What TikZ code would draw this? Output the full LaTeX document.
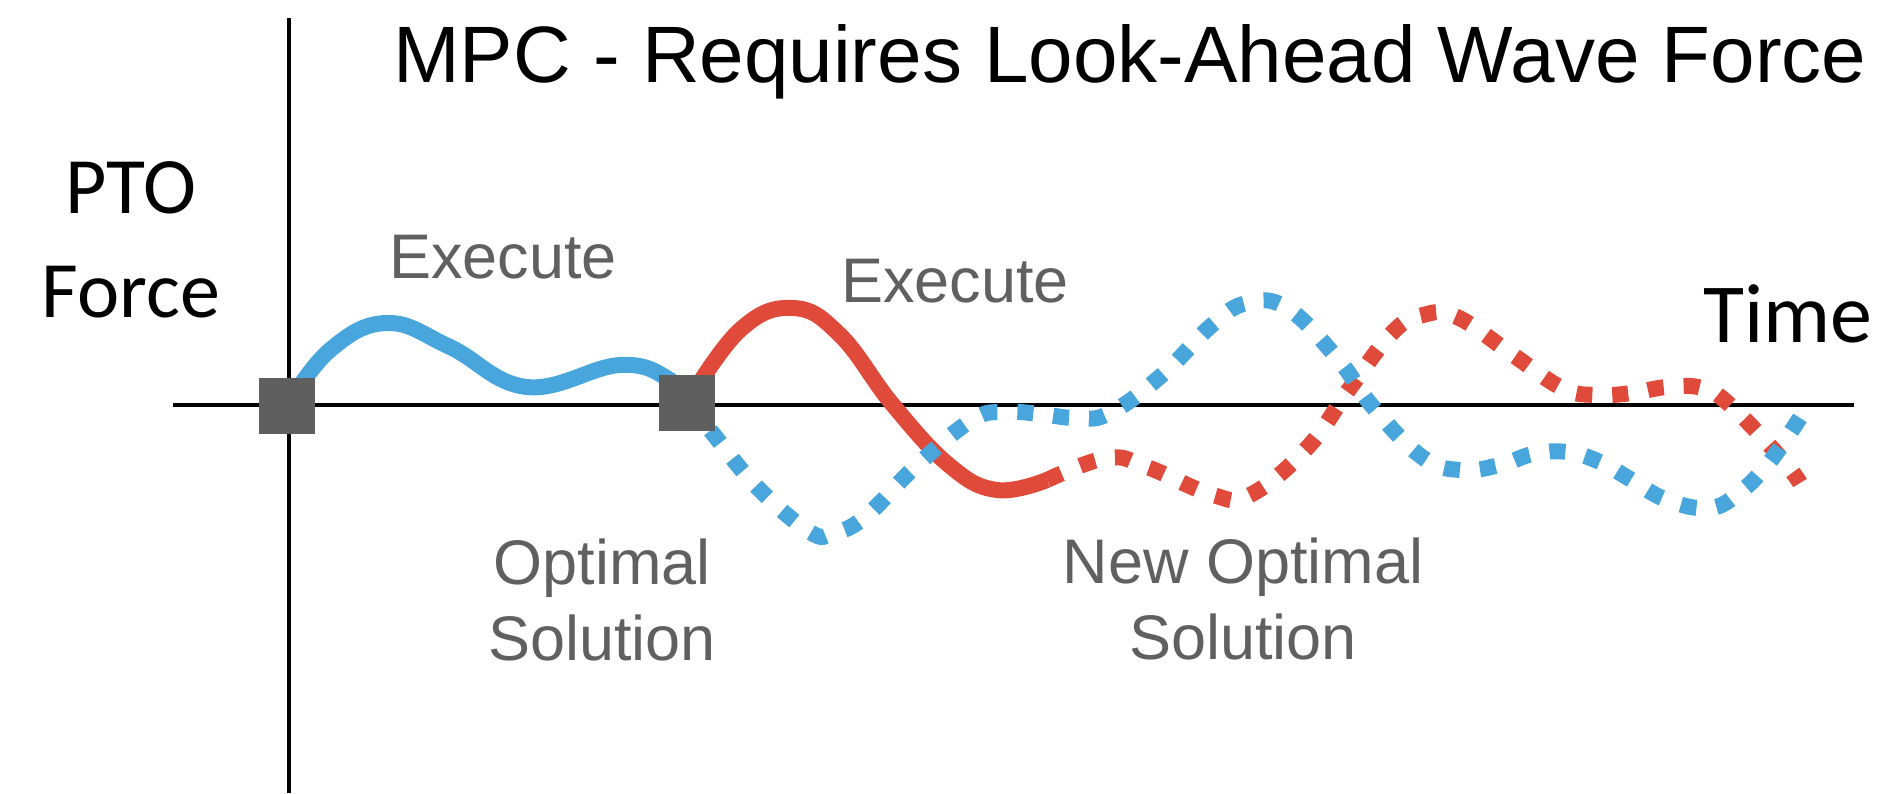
\documentclass[tikz,border=0pt]{standalone}
\usepackage{fontspec}
\setmainfont{Liberation Sans}
\newfontfamily\carlito{Carlito}
\usetikzlibrary{positioning}
\definecolor{wblue}{RGB}{72,166,220}
\definecolor{wred}{RGB}{224,74,58}
\definecolor{tgray}{RGB}{96,96,96}
\definecolor{kgray}{RGB}{95,95,95}
\tikzstyle{knot}=[rectangle, fill=kgray, inner sep=0pt, minimum size=56pt]
\tikzstyle{note}=[text=tgray, inner sep=0pt, align=center, font=\fontsize{63}{76}\selectfont]
\tikzstyle{run}=[line width=16pt]
\tikzstyle{plan}=[line width=16pt, dash pattern=on 16pt off 20pt]

\begin{document}
\begin{tikzpicture}[x=1pt, y=-1pt]
\useasboundingbox (0,0) rectangle (1894,793);
\coordinate (ytop) at (289,18); \coordinate (ybot) at (289,793);
\coordinate (xl) at (173,405); \coordinate (xr) at (1854,405);
\coordinate (k0) at (287,406); \coordinate (k1) at (687,403); \coordinate (k2) at (1047,480);
\coordinate (rend) at (1800,483); \coordinate (bend) at (1808,405);

\draw [line width=4pt] (ybot) -- (ytop) (xl) -- (xr);

\draw [run, wblue] plot [smooth, tension=0.7] coordinates {(k0) (330,350) (387,323) (450,347) (527,387) (620,365) (670,380) (k1)};
\draw [run, wred] plot [smooth, tension=0.7] coordinates {(k1) (740,330) (793,308) (840,335) (893,405) (950,466) (997,490) (k2)};
\draw [plan, wred] plot [smooth, tension=0.7] coordinates {(k2) (1107,458) (1147,467) (1213,495) (1250,495) (1307,448) (1350,388) (1393,332) (1423,315) (1457,317) (1513,355) (1562,388) (1595,395) (1632,393) (1667,387) (1702,388) (1730,405) (1780,457) (rend)};
\draw [plan, wblue] plot [smooth, tension=0.7] coordinates {(k1) (710,430) (757,487) (810,532) (833,533) (865,517) (915,467) (972,420) (1005,412) (1040,414) (1077,418) (1110,413) (1162,375) (1212,325) (1247,303) (1287,308) (1337,358) (1373,407) (1422,457) (1460,470) (1500,465) (1533,454) (1567,452) (1600,462) (1630,479) (1667,500) (1710,508) (1740,492) (1767,465) (1790,433) (bend)};

\node [knot] (sq0) at (k0) {}; \node [knot] (sq1) at (k1) {};

\node [anchor=base west, inner sep=0pt, font=\fontsize{80}{96}\selectfont] (title) at (393,82) {MPC - Requires Look-Ahead Wave Force};
\node [anchor=base, align=center, inner sep=0pt, font=\carlito\fontsize{80}{104}\selectfont] (ylab) at (131,317) {PTO\\Force};
\node [anchor=base west, inner sep=0pt, font=\carlito\fontsize{84}{100}\selectfont] (tlab) at (1703,342) {Time};
\node [note, anchor=base] (exe1) at (503,278) {Execute};
\node [note, anchor=base] (exe2) at (955,302) {Execute};
\node [note, anchor=base] (sol1) at (602,660) {Optimal\\Solution};
\node [note, anchor=base] (sol2) at (1243,659) {New Optimal\\Solution};
\end{tikzpicture}
\end{document}
